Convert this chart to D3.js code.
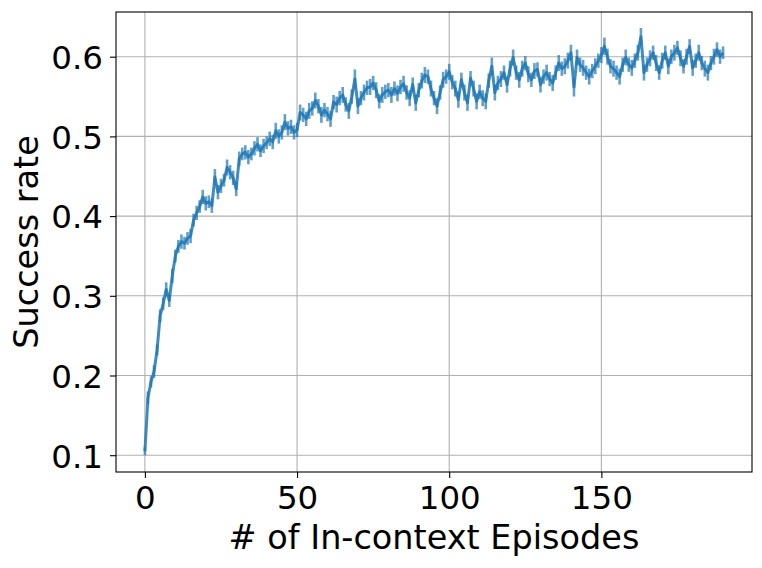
<!DOCTYPE html>
<html><head><meta charset="utf-8">
<script src="https://cdn.jsdelivr.net/npm/d3@7"></script>
<style>body{margin:0;background:#fff}svg{display:block}text{font-family:"DejaVu Sans",sans-serif;fill:#000}</style>
</head><body><svg id="c" width="762" height="568"></svg>
<script>
// success rate per in-context episode (0..190)
const successRate = [
0.105,0.172,0.192,0.205,0.232,0.275,0.290,0.308,0.294,0.325,
0.350,0.362,0.368,0.366,0.372,0.375,0.395,0.404,0.412,0.424,
0.416,0.418,0.413,0.449,0.430,0.438,0.445,0.461,0.455,0.448,
0.434,0.472,0.478,0.480,0.474,0.478,0.485,0.490,0.482,0.488,
0.492,0.497,0.493,0.507,0.500,0.505,0.518,0.510,0.512,0.505,
0.508,0.530,0.527,0.522,0.532,0.535,0.545,0.538,0.527,0.533,
0.528,0.522,0.543,0.540,0.548,0.552,0.540,0.532,0.550,0.572,
0.538,0.548,0.555,0.561,0.562,0.567,0.558,0.544,0.552,0.556,
0.558,0.552,0.560,0.554,0.562,0.566,0.555,0.548,0.565,0.542,
0.558,0.570,0.577,0.575,0.560,0.548,0.538,0.555,0.571,0.575,
0.581,0.568,0.560,0.546,0.571,0.555,0.542,0.573,0.560,0.544,
0.556,0.548,0.544,0.570,0.588,0.555,0.567,0.572,0.580,0.565,
0.585,0.599,0.580,0.571,0.585,0.592,0.578,0.571,0.582,0.584,
0.565,0.575,0.580,0.572,0.567,0.580,0.592,0.585,0.588,0.595,
0.605,0.562,0.599,0.590,0.586,0.580,0.575,0.582,0.588,0.595,
0.602,0.613,0.600,0.588,0.585,0.580,0.575,0.590,0.599,0.590,
0.586,0.595,0.605,0.625,0.580,0.590,0.598,0.605,0.592,0.580,
0.595,0.605,0.588,0.600,0.605,0.611,0.598,0.588,0.600,0.613,
0.586,0.595,0.605,0.592,0.585,0.580,0.592,0.600,0.609,0.600,
0.605];
// half-width of the error bar at each episode
const errorHalf = [
0.005,0.008,0.007,0.008,0.007,0.008,0.008,0.009,0.008,0.009,
0.008,0.008,0.009,0.008,0.008,0.009,0.008,0.009,0.008,0.009,
0.009,0.008,0.009,0.010,0.009,0.009,0.008,0.010,0.009,0.009,
0.009,0.009,0.008,0.009,0.009,0.008,0.009,0.009,0.008,0.009,
0.008,0.009,0.009,0.010,0.009,0.009,0.010,0.009,0.009,0.009,
0.009,0.010,0.009,0.009,0.010,0.009,0.010,0.009,0.010,0.009,
0.009,0.010,0.009,0.010,0.009,0.010,0.009,0.010,0.009,0.012,
0.010,0.009,0.010,0.009,0.010,0.009,0.010,0.009,0.010,0.009,
0.009,0.010,0.009,0.010,0.009,0.010,0.009,0.010,0.009,0.010,
0.009,0.010,0.010,0.009,0.010,0.009,0.010,0.009,0.010,0.009,
0.010,0.009,0.010,0.010,0.009,0.010,0.010,0.009,0.010,0.010,
0.009,0.010,0.010,0.009,0.011,0.010,0.009,0.010,0.009,0.010,
0.010,0.010,0.009,0.010,0.010,0.009,0.010,0.009,0.010,0.009,
0.010,0.009,0.010,0.009,0.010,0.009,0.010,0.009,0.010,0.010,
0.010,0.012,0.010,0.009,0.010,0.009,0.010,0.009,0.010,0.009,
0.010,0.011,0.010,0.009,0.010,0.009,0.010,0.009,0.010,0.009,
0.010,0.009,0.010,0.011,0.010,0.009,0.010,0.009,0.010,0.009,
0.010,0.009,0.010,0.009,0.010,0.009,0.010,0.009,0.010,0.009,
0.010,0.009,0.010,0.009,0.010,0.010,0.009,0.010,0.009,0.009,
0.008];
const xTicks = [0, 50, 100, 150];
const yTicks = [0.1, 0.2, 0.3, 0.4, 0.5, 0.6];
const xLabel = "# of In-context Episodes";
const yLabel = "Success rate";

const L = 116, R = 752, T = 12, B = 472;
const fsTick = 32.5, fsLab = 33.5;
const color = "#1f77b4";
const episodes = successRate.map((_, i) => i);
const x = d3.scaleLinear().domain([-9.5, 199.5]).range([L, R]);
const y = d3.scaleLinear().domain([0.1, 0.6]).range([455.2, 56.7]);

const svg = d3.select("#c");
const g = svg.append("g");

// grid
g.selectAll(".gx").data(xTicks).join("line")
  .attr("x1", d => x(d)).attr("x2", d => x(d)).attr("y1", T).attr("y2", B)
  .attr("stroke", "#b0b0b0").attr("stroke-width", 1.1);
g.selectAll(".gy").data(yTicks).join("line")
  .attr("x1", L).attr("x2", R).attr("y1", d => y(d)).attr("y2", d => y(d))
  .attr("stroke", "#b0b0b0").attr("stroke-width", 1.1);

// error bars
g.append("g").selectAll("line").data(episodes).join("line")
  .attr("x1", i => x(i)).attr("x2", i => x(i))
  .attr("y1", i => y(successRate[i] - errorHalf[i]))
  .attr("y2", i => y(successRate[i] + errorHalf[i]))
  .attr("stroke", color).attr("stroke-opacity", 0.7).attr("stroke-width", 2.6);

// line
g.append("path").datum(episodes)
  .attr("d", d3.line().x(i => x(i)).y(i => y(successRate[i])))
  .attr("fill", "none").attr("stroke", color).attr("stroke-opacity", 0.85)
  .attr("stroke-width", 3).attr("stroke-linejoin", "round");

// axes
const xa = svg.append("g").attr("transform", `translate(0,${B})`)
  .call(d3.axisBottom(x).tickValues(xTicks).tickSize(6).tickPadding(7).tickFormat(d3.format("d")));
const ya = svg.append("g").attr("transform", `translate(${L},0)`)
  .call(d3.axisLeft(y).tickValues(yTicks).tickSize(6).tickPadding(8).tickFormat(d3.format(".1f")));
[xa, ya].forEach(a => {
  a.select(".domain").remove();
  a.selectAll(".tick line").attr("stroke", "#000").attr("stroke-width", 1.1);
  a.selectAll(".tick text").attr("font-size", fsTick).attr("font-family", "DejaVu Sans").attr("fill", "#000");
});
xa.selectAll(".tick text").attr("dy", null).attr("y", 37.3);
ya.selectAll(".tick text").attr("dy", null).attr("dominant-baseline", null).attr("x", -13).attr("y", 0.3645 * fsTick);

// spines
svg.append("rect").attr("x", L).attr("y", T).attr("width", R - L).attr("height", B - T)
  .attr("fill", "none").attr("stroke", "#000").attr("stroke-width", 1.1);

// labels
svg.append("text").attr("x", (L + R) / 2).attr("y", 548.5).attr("text-anchor", "middle")
  .attr("font-size", fsLab).text(xLabel);
svg.append("text").attr("transform", `translate(38,${(T + B) / 2}) rotate(-90)`)
  .attr("text-anchor", "middle").attr("font-size", fsLab).text(yLabel);
</script></body></html>
